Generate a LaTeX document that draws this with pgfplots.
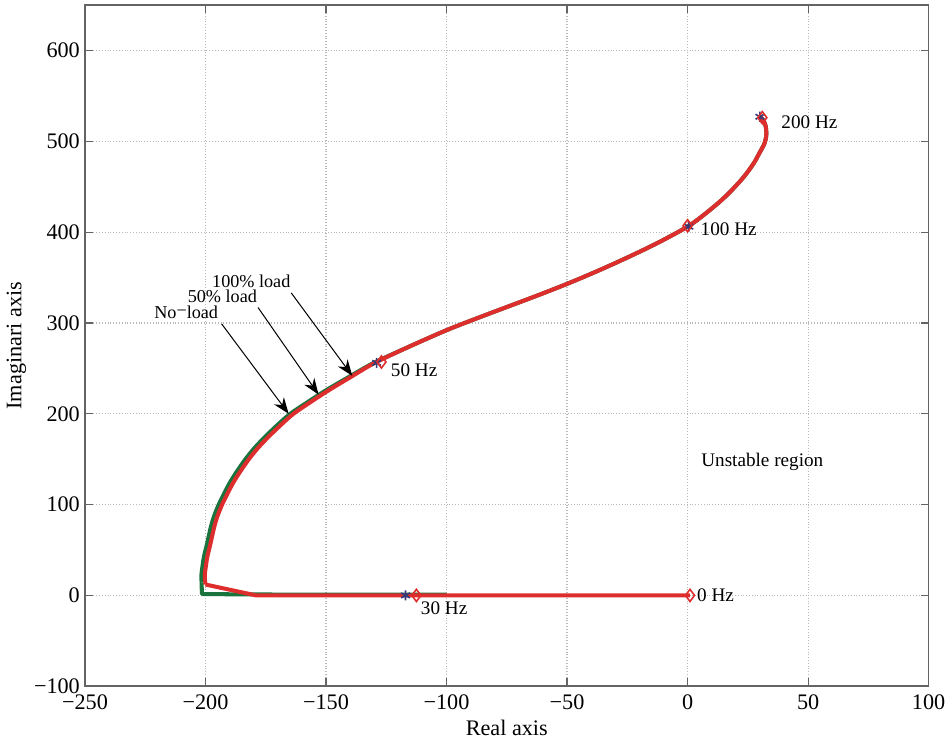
\documentclass[border=0pt]{standalone}
\usepackage{fontspec}
\setmainfont{Liberation Serif}
\usepackage{pgfplots}
\pgfplotsset{compat=1.18}
\usetikzlibrary{arrows.meta}
\definecolor{cred}{RGB}{222,45,45}
\definecolor{cgreen}{RGB}{25,115,60}
\definecolor{cblue}{RGB}{50,60,120}
\definecolor{frame}{RGB}{100,100,100}
\begin{document}
\begin{tikzpicture}
\begin{axis}[
  scale only axis,
  width=418pt, height=337.5pt,
  xmin=-250, xmax=100, ymin=-100, ymax=650,
  xtick={-250,-200,...,100},
  xticklabels={−250,−200,−150,−100,−50,0,50,100},
  ytick={-100,0,...,600},
  yticklabels={−100,0,100,200,300,400,500,600},
  tick label style={font=\fontsize{11}{13}\selectfont},
  label style={font=\fontsize{11}{13}\selectfont},
  xticklabel style={yshift=-0.5pt},
  yticklabel style={xshift=1pt},
  xlabel={Real axis},
  ylabel={Imaginari axis},
  grid=major,
  major grid style={densely dotted, gray!55, line width=0.6pt},
  axis line style={frame, line width=0.8pt},
  tick style={frame, line width=0.6pt},
  tick align=inside,
  major tick length=4pt,
  xlabel style={yshift=1.5pt},
  ylabel style={yshift=-3pt},
  clip=true,
]
% no-load (green)
\addplot[cgreen, line width=2pt, line join=round] coordinates {
(-100,0.8) (-178,1) (-201.5,1.5) (-201.6,14)
};
\addplot[cgreen, line width=2pt, smooth, line join=round] coordinates {
(-201.6,14) (-201.7,22) (-201.3,31) (-200.6,43) (-199.5,55) (-197.8,75) (-196.4,87.5) (-194.5,100) (-192.2,112.5) (-189.7,125) (-186.7,137.5) (-183.4,150) (-179.6,162.5) (-175.1,175) (-170.2,187.5) (-164.8,200) (-157.8,212.5) (-150.5,225) (-140.2,241) (-130.2,256) (-115,274.5) (-100,292) (-87.5,305) (-75,317.5) (-62.5,330) (-50,343) (-37.5,357) (-25,372) (-12.5,388) (0,406) (7,419.5) (14,435) (19,448) (23.7,462) (27.5,476) (30,488) (31.8,497) (32.6,505) (32.6,513) (32,520) (30,528)
};
% 100% load (red)
\addplot[cred, line width=2pt, line join=round] coordinates {
(1,0) (-100,0) (-179,0) (-200,12)
};
\addplot[cred, line width=2pt, smooth, line join=round] coordinates {
(-200,12) (-200.3,22) (-199.9,31) (-199.2,43) (-198.1,55) (-196.4,75) (-195,87.5) (-193.1,100) (-190.8,112.5) (-188.3,125) (-185.3,137.5) (-182,150) (-178.2,162.5) (-173.7,175) (-168.8,187.5) (-163.5,200) (-156.6,212.5) (-149.4,225) (-139.4,241) (-129.8,256) (-115,274.5) (-100,292) (-87.5,305) (-75,317.5) (-62.5,330) (-50,343) (-37.5,357) (-25,372) (-12.5,388) (0,406) (7,419.5) (14,435) (19,448) (23.7,462) (27.5,476) (30,488) (31.8,497) (32.6,505) (32.6,513) (32,520) (30,528)
};
% frequency markers
\addplot[only marks, mark=asterisk, mark size=2.5pt, cblue, line width=0.8pt] coordinates {
(-117,0) (-129,256) (0.5,406) (30,527)
};
\addplot[only marks, mark=diamond, mark size=3pt, cred, line width=0.8pt] coordinates {
(1,0) (-112.5,0) (-127,257) (0,407) (31,526)
};
% annotations
\node[anchor=west, font=\fontsize{9.5}{11}\selectfont] at (axis cs:36,521) {200 Hz};
\node[anchor=west, font=\fontsize{9.5}{11}\selectfont] at (axis cs:2.5,403) {100 Hz};
\node[anchor=west, font=\fontsize{9.5}{11}\selectfont] at (axis cs:-126,248) {50 Hz};
\node[anchor=west, font=\fontsize{9.5}{11}\selectfont, inner sep=1pt] at (axis cs:3,0) {0 Hz};
\node[font=\fontsize{9.5}{11}\selectfont] at (axis cs:-101,-14) {30 Hz};
\node[font=\fontsize{9.5}{11}\selectfont] at (axis cs:31,147) {Unstable region};
\node[font=\fontsize{9}{10}\selectfont, inner sep=0pt] at (axis cs:-208,312) {No\raisebox{0.25ex}{−}load};
\node[font=\fontsize{9}{10}\selectfont, inner sep=0pt] at (axis cs:-193,329) {50\% load};
\node[font=\fontsize{9}{10}\selectfont, inner sep=0pt] at (axis cs:-181,346) {100\% load};
\draw[-{Stealth[length=8pt,width=6pt]}, black, line width=0.5pt] (axis cs:-193.3,299) -- (axis cs:-165.5,200);
\draw[-{Stealth[length=8pt,width=6pt]}, black, line width=0.5pt] (axis cs:-178.2,317) -- (axis cs:-153.1,221.1);
\draw[-{Stealth[length=8pt,width=6pt]}, black, line width=0.5pt] (axis cs:-164.4,333) -- (axis cs:-139.1,241.7);
\end{axis}
\path ([yshift=2.5pt]current axis.north);
\end{tikzpicture}
\end{document}
